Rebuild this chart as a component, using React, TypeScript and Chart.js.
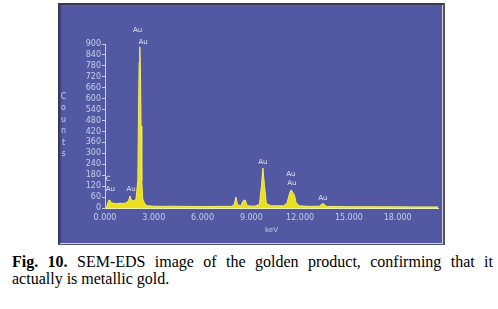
import React, { useEffect, useRef } from "react";
import { Chart, registerables } from "chart.js";

Chart.register(...registerables);

// Spectrum (energy in keV, counts)
const energyKeV = [
  0.0, 0.1, 0.18, 0.25, 0.3, 0.38, 0.5, 0.7, 0.9, 1.1, 1.3, 1.45, 1.54, 1.62, 1.75, 1.9,
  2.02, 2.06, 2.1, 2.14, 2.18, 2.22, 2.26, 2.32, 2.45, 2.6, 3.0, 3.5, 4.0, 5.0, 6.0, 7.0,
  7.8, 7.95, 8.05, 8.15, 8.35, 8.5, 8.62, 8.75, 9.2, 9.5, 9.62, 9.71, 9.8, 9.92, 10.2, 11.0,
  11.2, 11.35, 11.45, 11.55, 11.65, 11.75, 11.95, 12.5, 13.2, 13.35, 13.45, 13.6, 15.0, 17.0,
  19.0, 20.48,
];
const counts = [
  0, 4, 30, 44, 40, 30, 26, 24, 26, 25, 28, 40, 66, 42, 40, 46,
  150, 500, 800, 885, 760, 450, 150, 50, 22, 12, 10, 9, 10, 9, 8, 9,
  9, 20, 60, 18, 12, 40, 44, 12, 10, 20, 120, 220, 130, 25, 12, 12,
  30, 80, 100, 85, 70, 30, 12, 9, 10, 24, 22, 9, 7, 7,
  6, 6,
];

// Peak annotations
const peakLabels = ["Au", "Au", "C", "Au", "Au", "Au", "Au", "Au", "Au"];
const peakLabelKeV = [2.0, 2.34, 0.2, 0.33, 1.6, 9.71, 11.43, 11.49, 13.4];
const peakLabelCounts = [974, 908, 158, 104, 104, 250, 187, 137, 55];

// Axis settings
const xMaxKeV = 20.48;
const xStep = 3;
const yMaxCounts = 900;
const yStep = 60;
const yTitleLetters = ["C", "o", "u", "n", "t", "s"];
const xTitle = "keV";

const LABEL_COLOR = "#c9cdeb";

const panelPlugin = {
  id: "panel",
  beforeDraw(chart: any) {
    const { ctx, width, height } = chart;
    ctx.save();
    ctx.fillStyle = "#5259a2";
    ctx.fillRect(0, 0, width, height);
    ctx.fillStyle = "#5a5aa0";
    ctx.fillRect(0, 0, width, 3);
    ctx.fillStyle = "#3a3a4e";
    ctx.fillRect(0, 0, width, 2);
    ctx.fillRect(0, 0, 2, height);
    ctx.fillStyle = "#474e92";
    ctx.fillRect(2, 2, 2, height - 4);
    ctx.fillStyle = "#d0d0da";
    ctx.fillRect(width - 3, 2, 1, height - 3);
    ctx.fillRect(2, height - 2, width - 4, 1);
    ctx.fillStyle = "#55555e";
    ctx.fillRect(width - 2, 0, 2, height);
    ctx.fillRect(0, height - 1, width, 1);
    ctx.restore();
  },
  afterDraw(chart: any) {
    const { ctx } = chart;
    const xs = chart.scales.x;
    const ys = chart.scales.y;
    ctx.save();
    ctx.fillStyle = LABEL_COLOR;
    ctx.font = "8px 'DejaVu Sans'";
    ctx.textAlign = "center";
    ctx.textBaseline = "middle";
    yTitleLetters.forEach((ch, i) => {
      ctx.fillText(ch, 5.5, 94 + i * 11.4);
    });
    ctx.fillStyle = "#dfe2f6";
    ctx.font = "7px 'DejaVu Sans'";
    peakLabels.forEach((t, i) => {
      ctx.fillText(t, xs.getPixelForValue(peakLabelKeV[i]), ys.getPixelForValue(peakLabelCounts[i]));
    });
    ctx.restore();
  },
};

export default function App() {
  const ref = useRef<HTMLCanvasElement | null>(null);
  useEffect(() => {
    if (!ref.current) return;
    const chart = new Chart(ref.current, {
      type: "line",
      data: {
        datasets: [
          {
            data: energyKeV.map((x, i) => ({ x, y: counts[i] })),
            fill: "origin",
            backgroundColor: "#ebe01c",
            borderColor: "#f4ee62",
            borderWidth: 1,
            pointRadius: 0,
            tension: 0,
          },
        ],
      },
      options: {
        animation: false,
        responsive: false,
        devicePixelRatio: 1,
        layout: { padding: { left: 0, top: 41, right: 7, bottom: 5 } },
        plugins: { legend: { display: false }, tooltip: { enabled: false } },
        scales: {
          x: {
            type: "linear",
            min: 0,
            max: xMaxKeV,
            afterFit: (s: any) => {
              s.height = 32;
            },
            grid: { display: false, drawTicks: false },
            border: { display: true, color: "#f1efb8", width: 1 },
            ticks: {
              stepSize: xStep,
              includeBounds: false,
              autoSkip: false,
              maxRotation: 0,
              padding: 5,
              color: LABEL_COLOR,
              font: { family: "'DejaVu Sans'", size: 8 },
              callback: (v: any) => Number(v).toFixed(3),
            },
            title: {
              display: true,
              text: xTitle,
              color: LABEL_COLOR,
              font: { family: "'DejaVu Sans'", size: 7 },
              padding: { top: 0, bottom: 6 },
            },
          },
          y: {
            min: 0,
            max: yMaxCounts,
            afterFit: (s: any) => {
              s.width = 47;
            },
            grid: {
              display: true,
              drawOnChartArea: false,
              drawTicks: true,
              tickLength: 3,
              color: LABEL_COLOR,
            },
            border: { display: true, color: LABEL_COLOR, width: 1 },
            ticks: {
              stepSize: yStep,
              autoSkip: false,
              padding: 1,
              color: LABEL_COLOR,
              font: { family: "'DejaVu Sans'", size: 8 },
            },
          },
        },
      },
      plugins: [panelPlugin],
    });
    return () => chart.destroy();
  }, []);

  return (
    <div>
      <canvas
        ref={ref}
        width={387}
        height={242}
        style={{ position: "absolute", left: 58, top: 3, width: 387, height: 242 }}
      />
      <div
        style={{
          position: "absolute",
          left: 12,
          top: 253,
          width: 481,
          fontFamily: "'Liberation Serif', serif",
          fontSize: 16,
          lineHeight: "17px",
          textAlign: "justify",
          color: "#000",
        }}
      >
        <b>Fig. 10.</b> SEM-EDS image of the golden product, confirming that it actually is metallic gold.
      </div>
    </div>
  );
}
